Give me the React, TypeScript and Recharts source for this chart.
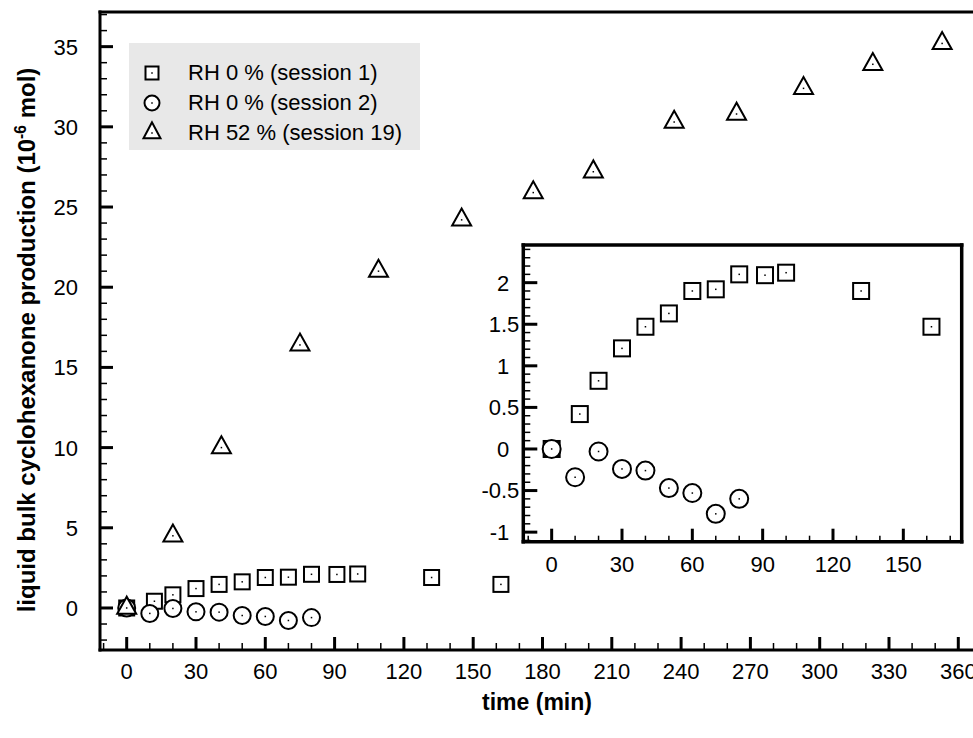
import { ScatterChart, Scatter, XAxis, YAxis, Legend, CartesianGrid } from 'recharts'

// time (min) and production (10^-6 mol)
const session1Times = [0, 12, 20, 30, 40, 50, 60, 70, 80, 91, 100, 132, 162]
const session1Values = [0, 0.42, 0.82, 1.21, 1.47, 1.63, 1.9, 1.92, 2.1, 2.09, 2.12, 1.9, 1.47]
const session2Times = [0, 10, 20, 30, 40, 50, 60, 70, 80]
const session2Values = [0, -0.34, -0.03, -0.24, -0.26, -0.47, -0.53, -0.78, -0.6]
const session19Times = [0, 20, 41, 75, 109, 145, 176, 202, 237, 264, 293, 323, 353]
const session19Values = [0, 4.5, 10.0, 16.4, 21.0, 24.2, 25.9, 27.2, 30.3, 30.8, 32.4, 33.9, 35.2]

const seriesNames = ['RH 0 % (session 1)', 'RH 0 % (session 2)', 'RH 52 % (session 19)']

const mainXTicks = [0, 30, 60, 90, 120, 150, 180, 210, 240, 270, 300, 330, 360]
const mainYTicks = [0, 5, 10, 15, 20, 25, 30, 35]
const insetXTicks = [0, 30, 60, 90, 120, 150]
const insetYTicks = [-1, -0.5, 0, 0.5, 1, 1.5, 2]

const FONT = '"Liberation Sans", Arial, Helvetica, sans-serif'

const zip = (ts: number[], vs: number[]) => ts.map((t, i) => ({ t, v: vs[i] }))
const session1 = zip(session1Times, session1Values)
const session2 = zip(session2Times, session2Values)
const session19 = zip(session19Times, session19Values)

const range = (from: number, to: number, step: number) => {
  const out: number[] = []
  for (let v = from; v <= to + 1e-9; v += step) out.push(Math.round(v * 100) / 100)
  return out
}
const isMajor = (majors: number[], v: number) => majors.some(m => Math.abs(m - v) < 1e-6)

// ticks point inward; labels sit outside the frame
function bottomTick(majors: number[], gap: number, majorLen: number, minorLen: number) {
  return (props: any) => {
    const { x, y, payload } = props
    const major = isMajor(majors, payload.value)
    return (
      <g>
        <line x1={x} x2={x} y1={y} y2={y - (major ? majorLen : minorLen)} stroke="#000" strokeWidth={major ? 3 : 1.5} />
        {major && (
          <text x={x} y={y + gap} textAnchor="middle" fontFamily={FONT} fontSize={22} fill="#000">
            {payload.value}
          </text>
        )}
      </g>
    )
  }
}

function leftTick(majors: number[], gap: (v: number) => number, majorLen: number, minorLen: number) {
  return (props: any) => {
    const { x, y, payload } = props
    const major = isMajor(majors, payload.value)
    return (
      <g>
        <line x1={x} x2={x + (major ? majorLen : minorLen)} y1={y} y2={y} stroke="#000" strokeWidth={major ? 3 : 1.5} />
        {major && (
          <text x={x - gap(payload.value)} y={y} dy="0.36em" textAnchor="end" fontFamily={FONT} fontSize={22} fill="#000">
            {payload.value}
          </text>
        )}
      </g>
    )
  }
}

const Dot = ({ cx, cy }: { cx: number; cy: number }) => <rect x={cx - 0.75} y={cy - 0.75} width={1.5} height={1.5} fill="#000" />

const squareMark = (s: number) => (props: any) => {
  const { cx, cy } = props
  return (
    <g>
      <rect x={cx - s / 2} y={cy - s / 2} width={s} height={s} fill="#fff" stroke="#000" strokeWidth={2} />
      <Dot cx={cx} cy={cy} />
    </g>
  )
}

const circleMark = (r: number) => (props: any) => {
  const { cx, cy } = props
  return (
    <g>
      <circle cx={cx} cy={cy} r={r} fill="#fff" stroke="#000" strokeWidth={2} />
      <Dot cx={cx} cy={cy} />
    </g>
  )
}

const triangleMark = (w: number, h: number) => (props: any) => {
  const { cx, cy } = props
  const top = cy - (2 * h) / 3
  const base = cy + h / 3
  return (
    <g>
      <polygon points={`${cx},${top} ${cx - w / 2},${base} ${cx + w / 2},${base}`} fill="#fff" stroke="#000" strokeWidth={2} strokeLinejoin="miter" />
      <Dot cx={cx} cy={cy} />
    </g>
  )
}

const legendMarks = [squareMark(13), circleMark(7.5), triangleMark(17, 16)]

function LegendBox({ payload }: { payload?: any[] }) {
  const items = payload && payload.length ? payload.map(p => p.value as string) : seriesNames
  return (
    <div style={{ width: 291, height: 107, background: '#e8e8e8', position: 'relative' }}>
      {items.map((name, i) => {
        const idx = seriesNames.indexOf(name)
        const Mark = legendMarks[idx < 0 ? i : idx]
        return (
          <div key={name} style={{ position: 'absolute', left: 0, top: 15 + i * 30, height: 30, width: 291 }}>
            <svg width={46} height={30} style={{ position: 'absolute', left: 0, top: 0 }}>
              <Mark cx={23} cy={15} />
            </svg>
            <span style={{ position: 'absolute', left: 59, top: 0, lineHeight: '30px', fontFamily: FONT, fontSize: 22, color: '#000', whiteSpace: 'nowrap' }}>
              {name}
            </span>
          </div>
        )
      })}
    </div>
  )
}

const frame = { stroke: '#000', strokeWidth: 3, strokeLinecap: 'square' as const }
const insetFrame = { ...frame, strokeWidth: 3.5 }

export default function App() {
  return (
    <div style={{ position: 'absolute', left: 0, top: 0, width: 973, height: 738, overflow: 'hidden', background: '#fff' }}>
      <ScatterChart width={1000} height={738} margin={{ top: 11, right: 14.3, bottom: 87, left: 0 }}>
        <XAxis
          xAxisId="main"
          dataKey="t"
          type="number"
          domain={[-11.558, 371.43]}
          allowDataOverflow
          ticks={range(-10, 370, 10)}
          interval={0}
          height={1}
          tickSize={0}
          tickMargin={0}
          tickLine={false}
          axisLine={frame}
          tick={bottomTick(mainXTicks, 29, 13, 7)}
        />
        <XAxis xAxisId="top" orientation="top" type="number" domain={[-11.558, 371.43]} height={1} tick={false} tickLine={false} axisLine={frame} />
        <YAxis
          yAxisId="main"
          dataKey="v"
          type="number"
          domain={[-2.62, 37.16]}
          allowDataOverflow
          ticks={range(-2, 37, 1)}
          interval={0}
          width={100}
          tickSize={0}
          tickMargin={0}
          tickLine={false}
          axisLine={frame}
          tick={leftTick(mainYTicks, () => 22, 13, 7)}
        />
        <YAxis yAxisId="right" orientation="right" type="number" domain={[-2.62, 37.16]} width={1} tick={false} tickLine={false} axisLine={frame} />
        <Legend
          layout="horizontal"
          verticalAlign="middle"
          align="center"
          wrapperStyle={{ left: 129, top: 43, width: 291, height: 107 }}
          content={(p: any) => <LegendBox payload={p.payload} />}
        />
        <Scatter name={seriesNames[0]} data={session1} xAxisId="main" yAxisId="main" shape={squareMark(15)} isAnimationActive={false} />
        <Scatter name={seriesNames[1]} data={session2} xAxisId="main" yAxisId="main" shape={circleMark(8.5)} isAnimationActive={false} />
        <Scatter name={seriesNames[2]} data={session19} xAxisId="main" yAxisId="main" shape={triangleMark(19, 17)} isAnimationActive={false} />
      </ScatterChart>

      <div style={{ position: 'absolute', left: 470, top: 235 }}>
        <ScatterChart width={500} height={360} margin={{ top: 9, right: 7.3, bottom: 52.3, left: 0 }}>
          <CartesianGrid horizontal={false} vertical={false} fill="#fff" xAxisId="in" yAxisId="in" />
          <XAxis
            xAxisId="in"
            dataKey="t"
            type="number"
            domain={[-12.1, 174.9]}
            allowDataOverflow
            ticks={range(-10, 170, 10)}
            interval={0}
            height={1}
            tickSize={0}
            tickMargin={0}
            tickLine={false}
            axisLine={insetFrame}
            tick={bottomTick(insetXTicks, 30, 13, 6)}
          />
          <XAxis xAxisId="inTop" orientation="top" type="number" domain={[-12.1, 174.9]} height={1} tick={false} tickLine={false} axisLine={insetFrame} />
          <YAxis
            yAxisId="in"
            dataKey="v"
            type="number"
            domain={[-1.115, 2.453]}
            allowDataOverflow
            ticks={range(-1.1, 2.4, 0.1)}
            interval={0}
            width={53.3}
            tickSize={0}
            tickMargin={0}
            tickLine={false}
            axisLine={insetFrame}
            tick={leftTick(insetYTicks, v => (Number.isInteger(v) ? 14 : 4), 14, 7)}
          />
          <YAxis yAxisId="inRight" orientation="right" type="number" domain={[-1.115, 2.453]} width={1} tick={false} tickLine={false} axisLine={insetFrame} />
          <Scatter name={seriesNames[0]} data={session1} xAxisId="in" yAxisId="in" shape={squareMark(16)} isAnimationActive={false} />
          <Scatter name={seriesNames[1]} data={session2} xAxisId="in" yAxisId="in" shape={circleMark(9)} isAnimationActive={false} />
        </ScatterChart>
      </div>

      <div style={{ position: 'absolute', left: 537, top: 702, transform: 'translate(-50%, -50%)', fontFamily: FONT, fontWeight: 'bold', fontSize: 23, lineHeight: 1, whiteSpace: 'nowrap' }}>
        time (min)
      </div>
      <div style={{ position: 'absolute', left: 27, top: 340, transform: 'translate(-50%, -50%) rotate(-90deg)', fontFamily: FONT, fontWeight: 'bold', fontSize: 24, lineHeight: 1, whiteSpace: 'nowrap' }}>
        liquid bulk cyclohexanone production (10<sup style={{ fontSize: '0.65em', lineHeight: 0 }}>-6</sup> mol)
      </div>
    </div>
  )
}
